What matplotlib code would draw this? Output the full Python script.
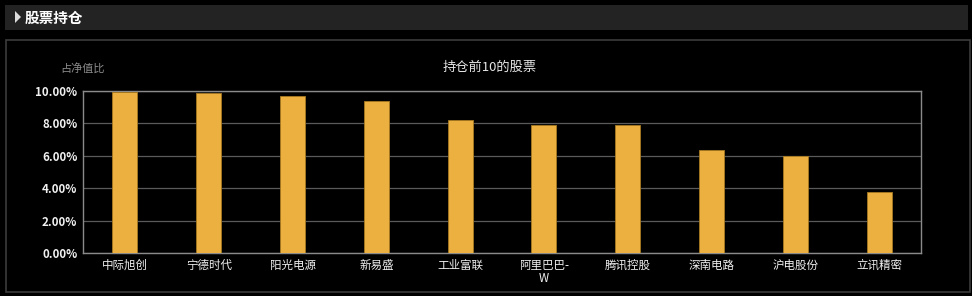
import matplotlib.pyplot as plt
from matplotlib.patches import Rectangle, Polygon
from matplotlib.ticker import FuncFormatter

plt.rcParams['font.family'] = ['Noto Sans CJK SC', 'DejaVu Sans']

# data
stocks = ["中际旭创", "宁德时代", "阳光电源", "新易盛", "工业富联",
          "阿里巴巴-\nW", "腾讯控股", "深南电路", "沪电股份", "立讯精密"]
ratios = [9.94, 9.88, 9.71, 9.36, 8.21, 7.92, 7.90, 6.38, 6.01, 3.78]
yticks = [0, 2, 4, 6, 8, 10]

fig = plt.figure(figsize=(9.72, 2.96), dpi=100)
fig.patch.set_facecolor('black')

# header bar + panel border
fig.patches.append(Rectangle((5/972, 1-30/296), 963/972, 25/296,
                             transform=fig.transFigure, facecolor='#232323',
                             edgecolor='none', zorder=0))
fig.patches.append(Polygon([(15/972, 1-11/296), (15/972, 1-23/296), (21/972, 1-17/296)],
                           closed=True, transform=fig.transFigure,
                           facecolor='#dddddd', edgecolor='none'))
fig.text(25/972, 1-17.5/296, "股票持仓", color='white', fontsize=10.5,
         fontweight='bold', va='center', ha='left')
fig.patches.append(Rectangle((5.5/972, 1-291.5/296), 964/972, 251/296,
                             transform=fig.transFigure, facecolor='none',
                             edgecolor='#3c3c3c', linewidth=1.2, zorder=0))

ax = fig.add_axes([83/972, 1-253/296, 838/972, 162/296])
ax.set_facecolor('black')

ax.bar(range(len(stocks)), ratios, width=0.3, color='#ebb040',
       edgecolor='#a87a20', linewidth=0.6, zorder=3)

ax.set_xlim(-0.5, len(stocks) - 0.5)
ax.set_ylim(0, 10)
ax.set_yticks(yticks)
ax.yaxis.set_major_formatter(FuncFormatter(lambda v, p: f"{v:.2f}%"))
ax.set_xticks(range(len(stocks)))
ax.set_xticklabels(stocks, linespacing=1.0)
ax.grid(axis='y', color='#5a5a5a', linewidth=0.9, zorder=0)
ax.tick_params(length=0, colors='#f0f0f0', labelsize=8.3, pad=4)
for lbl in ax.get_yticklabels():
    lbl.set_fontweight('bold')
for s in ax.spines.values():
    s.set_color('#8a8a8a')
    s.set_linewidth(1)

fig.text(490/972, 1-67/296, "持仓前10的股票", color='#e6e6e6', fontsize=9.5,
         ha='center', va='center')
fig.text(83/972, 1-68.5/296, "占净值比", color='#8c8c8c', fontsize=8,
         ha='center', va='center')

fig.savefig('out.png', dpi=100, facecolor='black')
